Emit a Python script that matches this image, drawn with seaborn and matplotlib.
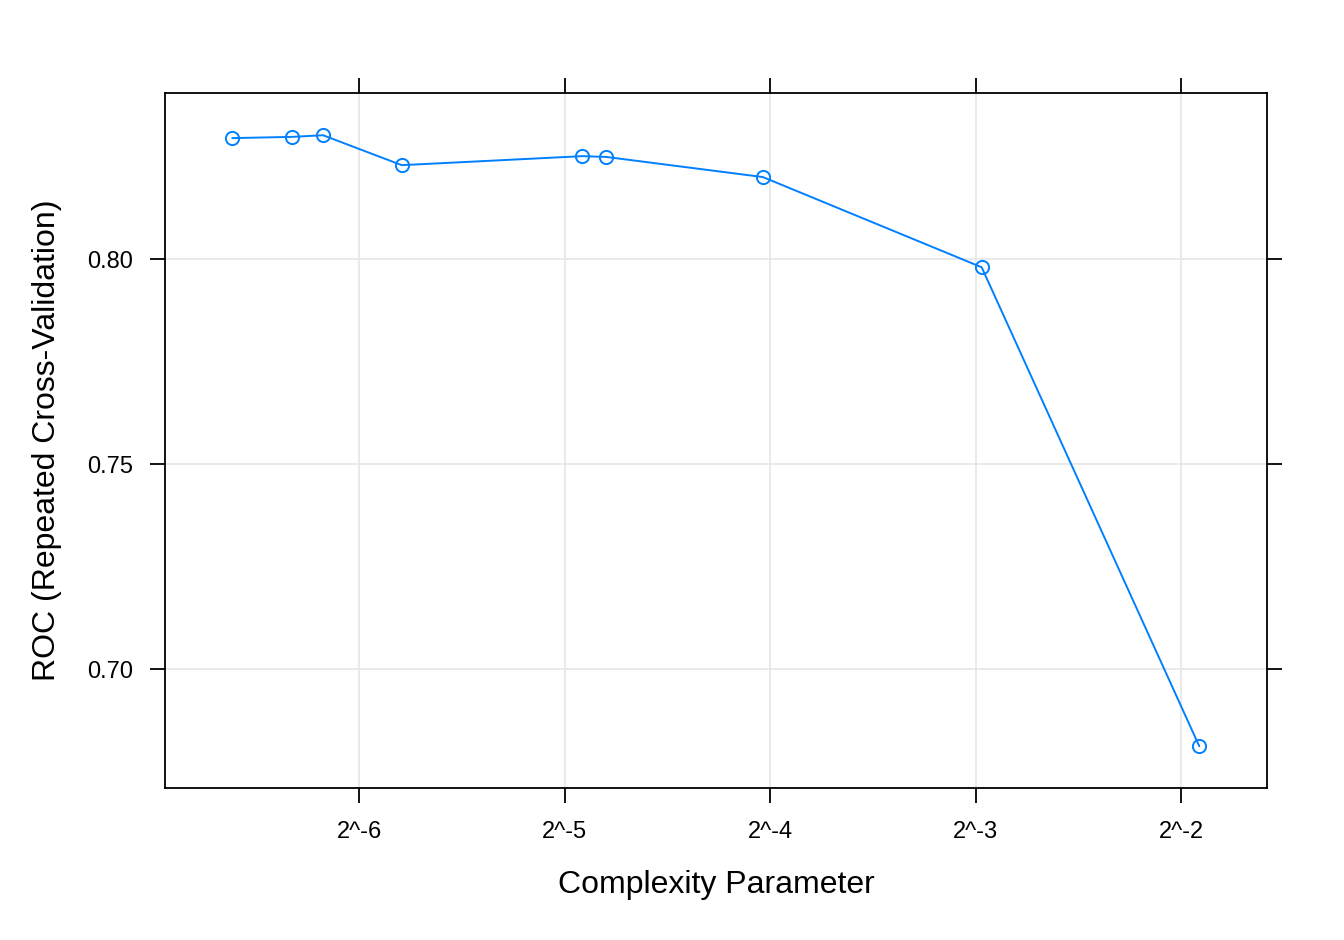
import numpy as np
import pandas as pd
import matplotlib
matplotlib.use("Agg")
import matplotlib.pyplot as plt
import seaborn as sns

# Data
cp_values = [0.01019, 0.01248, 0.01384, 0.01805, 0.0332, 0.0360, 0.0610, 0.1276, 0.2658]
roc_values = [0.8295, 0.8298, 0.8302, 0.8229, 0.8251, 0.8249, 0.8200, 0.7980, 0.6812]
x_tick_values = [2**-6, 2**-5, 2**-4, 2**-3, 2**-2]
x_tick_labels = ["2^-6", "2^-5", "2^-4", "2^-3", "2^-2"]
y_tick_values = [0.70, 0.75, 0.80]
y_tick_labels = ["0.70", "0.75", "0.80"]

df = pd.DataFrame({"cp": cp_values, "ROC": roc_values})

sns.set_theme(style="white")
plt.rcParams["font.family"] = ["Liberation Sans", "DejaVu Sans"]

fig = plt.figure(figsize=(13.44, 9.4), dpi=100)
ax = fig.add_axes([165/1344, 1 - 788/940, (1267 - 165)/1344, (788 - 93)/940])

color = "#0080ff"
sns.lineplot(data=df, x="cp", y="ROC", ax=ax, color=color, linewidth=1.4,
             marker="o", markersize=9.5, markerfacecolor="none",
             markeredgecolor=color, markeredgewidth=1.4)

ax.set_xscale("log", base=2)
ax.set_xlim(2**-6.944, 2**-1.582)
ax.set_ylim(0.671, 0.8405)

ax.set_xticks(x_tick_values)
ax.set_xticklabels(x_tick_labels)
ax.xaxis.set_minor_locator(matplotlib.ticker.NullLocator())
ax.set_yticks(y_tick_values)
ax.set_yticklabels(y_tick_labels)

ax.grid(True, color="#e6e6e6", linewidth=1.2)
ax.set_axisbelow(True)

for s in ax.spines.values():
    s.set_visible(True)
    s.set_color("black")
    s.set_linewidth(1.3)

ax.tick_params(axis="both", which="major", direction="out", length=11, width=1.3,
               color="black", labelsize=17, labelcolor="black", pad=12)
ax.tick_params(axis="x", top=True, bottom=True, labeltop=False, labelbottom=True,
               pad=13)
ax.tick_params(axis="y", left=True, right=True, labelleft=True, labelright=False)

ax.set_xlabel("Complexity Parameter", fontsize=23, color="black", labelpad=19)
ax.set_ylabel("ROC (Repeated Cross-Validation)", fontsize=23, color="black", labelpad=18)

fig.savefig("out.png", dpi=100)
